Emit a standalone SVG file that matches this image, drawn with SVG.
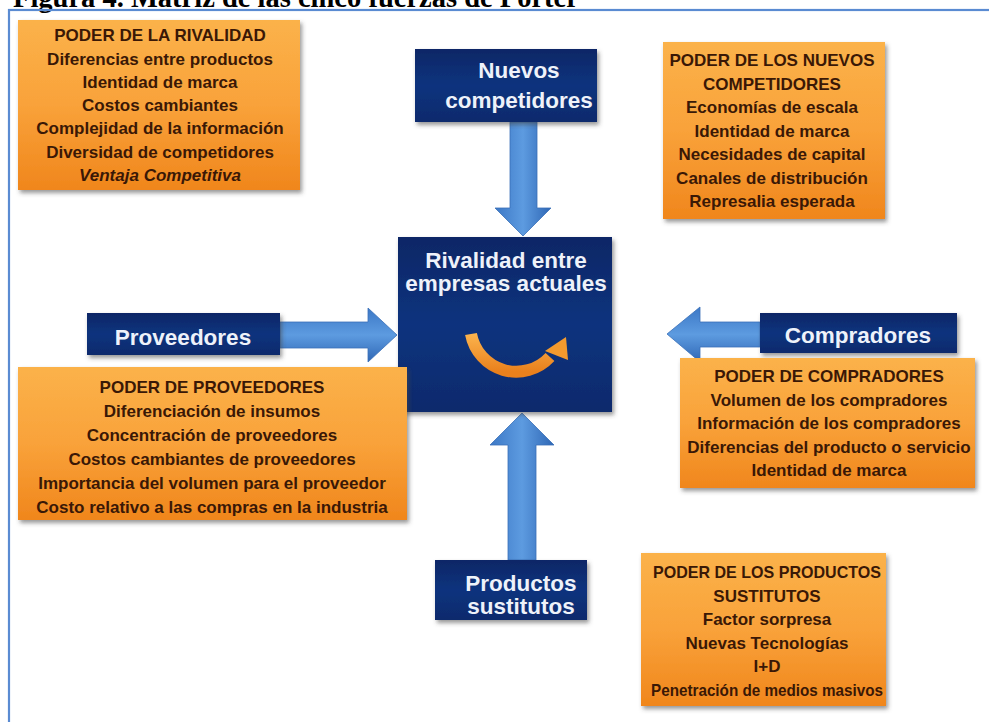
<svg xmlns="http://www.w3.org/2000/svg" width="989" height="722" viewBox="0 0 989 722">
<style>
  .otxt { font-family: "Liberation Sans", Arial, sans-serif; font-weight: bold; font-size: 17px; fill: #3a1806; text-anchor: middle; }
  .wtxt { font-family: "Liberation Sans", Arial, sans-serif; font-weight: bold; font-size: 22.5px; fill: #eef2fa; text-anchor: middle; }
  .obox { fill: url(#og); filter: url(#sh); }
  .nbox { fill: url(#ng); filter: url(#sh); }
  .barrow { fill: url(#bgv); stroke: #3a70b8; stroke-width: 0.8; }
  .barrowh { fill: url(#bgh); stroke: #3a70b8; stroke-width: 0.8; }
</style>
<defs>
  <linearGradient id="og" x1="0" y1="0" x2="0" y2="1">
    <stop offset="0" stop-color="#fbb24a"/>
    <stop offset="0.5" stop-color="#f9a23a"/>
    <stop offset="1" stop-color="#f0861c"/>
  </linearGradient>
  <linearGradient id="ng" x1="0" y1="0" x2="0" y2="1">
    <stop offset="0" stop-color="#0a2766"/>
    <stop offset="0.5" stop-color="#11337e"/>
    <stop offset="1" stop-color="#0b2a6c"/>
  </linearGradient>
  <linearGradient id="bgv" x1="0" y1="0" x2="1" y2="0">
    <stop offset="0" stop-color="#3c78c6"/>
    <stop offset="0.5" stop-color="#5d9be0"/>
    <stop offset="1" stop-color="#2f67b5"/>
  </linearGradient>
  <linearGradient id="bgh" x1="0" y1="0" x2="0" y2="1">
    <stop offset="0" stop-color="#3c78c6"/>
    <stop offset="0.5" stop-color="#5d9be0"/>
    <stop offset="1" stop-color="#2f67b5"/>
  </linearGradient>
  <linearGradient id="arcg" x1="0" y1="0" x2="0" y2="1">
    <stop offset="0" stop-color="#fbb34d"/>
    <stop offset="1" stop-color="#e9801c"/>
  </linearGradient>
  <filter id="sh" x="-10%" y="-10%" width="125%" height="130%">
    <feDropShadow dx="2" dy="3" stdDeviation="2" flood-color="#444" flood-opacity="0.55"/>
  </filter>
</defs>

<rect width="989" height="722" fill="#ffffff"/>
<text x="13" y="7" font-family="'Liberation Serif', 'Times New Roman', serif" font-weight="bold" font-size="28.5" fill="#000">Figura 4. Matriz de las cinco fuerzas de Porter</text>
<rect x="9" y="10" width="995" height="730" fill="none" stroke="#5a8bd2" stroke-width="2.2"/>

<g id="connectors">
  <polygon class="barrow" points="510,122 537,122 537,208 551,208 523,236 495,208 510,208"/>
  <polygon class="barrowh" points="280,322 368,322 368,308 397,335 368,362 368,348 280,348"/>
  <polygon class="barrowh" points="760,322 700,322 700,307 667,334 700,362 700,347 760,347"/>
  <polygon class="barrow" points="508,560 508,445 490,445 522,413 554,445 536,445 536,560"/>
</g>

<g id="poder-rivalidad">
  <rect class="obox" x="18" y="20" width="282" height="170"/>
  <text class="otxt" x="160" y="41">PODER DE LA RIVALIDAD</text>
  <text class="otxt" x="160" y="65">Diferencias entre productos</text>
  <text class="otxt" x="160" y="88">Identidad de marca</text>
  <text class="otxt" x="160" y="111">Costos cambiantes</text>
  <text class="otxt" x="160" y="134">Complejidad de la información</text>
  <text class="otxt" x="160" y="158">Diversidad de competidores</text>
  <text class="otxt" x="160" y="181" font-style="italic">Ventaja Competitiva</text>
</g>

<g id="nuevos-competidores">
  <rect class="nbox" x="415" y="49" width="182" height="73"/>
  <text class="wtxt" x="519" y="78">Nuevos</text>
  <text class="wtxt" x="519" y="108">competidores</text>
</g>

<g id="poder-nuevos">
  <rect class="obox" x="663" y="42" width="222" height="177"/>
  <text class="otxt" x="772" y="66">PODER DE LOS NUEVOS</text>
  <text class="otxt" x="772" y="89.5">COMPETIDORES</text>
  <text class="otxt" x="772" y="113">Economías de escala</text>
  <text class="otxt" x="772" y="136.5">Identidad de marca</text>
  <text class="otxt" x="772" y="160">Necesidades de capital</text>
  <text class="otxt" x="772" y="183.5">Canales de distribución</text>
  <text class="otxt" x="772" y="207">Represalia esperada</text>
</g>

<g id="rivalidad">
  <rect class="nbox" x="398" y="237" width="214" height="175"/>
  <text class="wtxt" x="506" y="268">Rivalidad entre</text>
  <text class="wtxt" x="506" y="291">empresas actuales</text>
  <path d="M 471 334 A 46 46 0 0 0 550 357" fill="none" stroke="url(#arcg)" stroke-width="12"/>
  <polygon points="566,337 568,360 545,351" fill="#f39a2e"/>
</g>

<g id="proveedores">
  <rect class="nbox" x="87" y="313" width="193" height="42"/>
  <text class="wtxt" x="183" y="345">Proveedores</text>
</g>

<g id="poder-proveedores">
  <rect class="obox" x="18" y="367" width="389" height="153"/>
  <text class="otxt" x="212" y="393">PODER DE PROVEEDORES</text>
  <text class="otxt" x="212" y="417">Diferenciación de insumos</text>
  <text class="otxt" x="212" y="441">Concentración de proveedores</text>
  <text class="otxt" x="212" y="465">Costos cambiantes de proveedores</text>
  <text class="otxt" x="212" y="489">Importancia del volumen para el proveedor</text>
  <text class="otxt" x="212" y="513">Costo relativo a las compras en la industria</text>
</g>

<g id="compradores">
  <rect class="nbox" x="760" y="313" width="197" height="40"/>
  <text class="wtxt" x="858" y="343">Compradores</text>
</g>

<g id="poder-compradores">
  <rect class="obox" x="680" y="358" width="295" height="130"/>
  <text class="otxt" x="829" y="382">PODER DE COMPRADORES</text>
  <text class="otxt" x="829" y="406">Volumen de los compradores</text>
  <text class="otxt" x="829" y="429">Información de los compradores</text>
  <text class="otxt" x="829" y="453">Diferencias del producto o servicio</text>
  <text class="otxt" x="829" y="476">Identidad de marca</text>
</g>

<g id="productos-sustitutos">
  <rect class="nbox" x="435" y="560" width="152" height="60"/>
  <text class="wtxt" x="521" y="591">Productos</text>
  <text class="wtxt" x="521" y="614">sustitutos</text>
</g>

<g id="poder-sustitutos">
  <rect class="obox" x="641" y="553" width="245" height="153"/>
  <text class="otxt" x="767" y="578" textLength="228" lengthAdjust="spacingAndGlyphs">PODER DE LOS PRODUCTOS</text>
  <text class="otxt" x="767" y="601.5">SUSTITUTOS</text>
  <text class="otxt" x="767" y="625">Factor sorpresa</text>
  <text class="otxt" x="767" y="648.5">Nuevas Tecnologías</text>
  <text class="otxt" x="767" y="672">I+D</text>
  <text class="otxt" x="767" y="695.5" textLength="232" lengthAdjust="spacingAndGlyphs">Penetración de medios masivos</text>
</g>
</svg>
